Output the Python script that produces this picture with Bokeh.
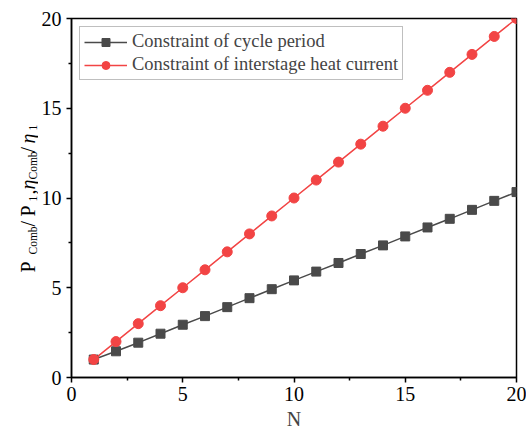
import math
from bokeh.plotting import figure
from bokeh.layouts import row
from bokeh.models import Range1d, Label, Legend, LegendItem, FixedTicker
from bokeh.embed import file_html
from bokeh.resources import INLINE

# ---- data ----
N = [1, 2, 3, 4, 5, 6, 7, 8, 9, 10, 11, 12, 13, 14, 15, 16, 17, 18, 19, 20]
cycle_period = [1.00, 1.46, 1.94, 2.44, 2.94, 3.42, 3.92, 4.42, 4.92, 5.41,
                5.90, 6.38, 6.88, 7.36, 7.86, 8.36, 8.84, 9.34, 9.84, 10.33]
heat_current = [1, 2, 3, 4, 5, 6, 7, 8, 9, 10,
                11, 12, 13, 14, 15, 16, 17, 18, 19, 20]
x_ticks = [0, 5, 10, 15, 20]
y_ticks = [0, 5, 10, 15, 20]
series_names = ["Constraint of cycle period", "Constraint of interstage heat current"]

FONT = "Liberation Serif"
BLACK = "#4a4a4a"
RED = "#f24444"
H = 434
LABEL_W = 38
FRAME_TOP, FRAME_BOTTOM = 18, 377

# ---- main plot ----
p = figure(width=526 - LABEL_W, height=H, output_backend="svg", toolbar_location=None,
           x_range=Range1d(0, 20), y_range=Range1d(0, 20),
           min_border_left=70 - LABEL_W, min_border_right=10, min_border_top=FRAME_TOP,
           min_border_bottom=H - FRAME_BOTTOM)
p.xgrid.visible = False
p.ygrid.visible = False
p.outline_line_color = "black"
p.outline_line_width = 1.5
p.background_fill_color = "white"
p.border_fill_color = "white"

for ax, ticks in ((p.xaxis[0], x_ticks), (p.yaxis[0], y_ticks)):
    ax.ticker = FixedTicker(ticks=ticks, minor_ticks=[t + 2.5 for t in ticks[:-1]])
    ax.axis_line_color = "black"
    ax.axis_line_width = 1.5
    ax.major_tick_line_color = "black"
    ax.major_tick_line_width = 1.5
    ax.minor_tick_line_color = "black"
    ax.minor_tick_line_width = 1.5
    ax.major_tick_in = 0
    ax.major_tick_out = 5
    ax.minor_tick_in = 0
    ax.minor_tick_out = 3
    ax.major_label_text_font = FONT
    ax.major_label_text_font_size = "20px"
    ax.major_label_text_color = "black"

p.xaxis[0].major_label_standoff = 4
p.yaxis[0].major_label_standoff = 5
p.xaxis[0].axis_label = "N"
p.xaxis[0].axis_label_text_font = FONT
p.xaxis[0].axis_label_text_font_size = "20px"
p.xaxis[0].axis_label_text_font_style = "normal"
p.xaxis[0].axis_label_standoff = 4

l1 = p.line(N, cycle_period, line_color=BLACK, line_width=1.5)
m1 = p.scatter(N, cycle_period, marker="square", size=9, fill_color=BLACK, line_color=BLACK)
l2 = p.line(N, heat_current, line_color=RED, line_width=1.5)
m2 = p.scatter(N, heat_current, marker="circle", size=10, fill_color=RED, line_color=RED)

legend = Legend(items=[LegendItem(label=series_names[0], renderers=[l1, m1]),
                       LegendItem(label=series_names[1], renderers=[l2, m2])],
                location="top_left", margin=8, padding=4, spacing=2,
                glyph_width=43, glyph_height=20, label_height=20, label_standoff=5,
                label_text_font=FONT, label_text_font_size="18.5px",
                border_line_color="#808080", border_line_width=1,
                background_fill_alpha=1.0)
p.add_layout(legend)

# ---- y axis title in a narrow strip figure (rotated text pieces) ----
# the strip's frame is aligned with the main frame, so map its y range to pixel rows
lab = figure(width=LABEL_W, height=H, output_backend="svg", toolbar_location=None,
             x_range=Range1d(0, LABEL_W), y_range=Range1d(H - FRAME_BOTTOM, H - FRAME_TOP),
             min_border=0, min_border_left=0, min_border_right=0,
             min_border_top=FRAME_TOP, min_border_bottom=H - FRAME_BOTTOM)
lab.axis.visible = False
lab.grid.visible = False
lab.outline_line_color = None
lab.background_fill_color = "white"
lab.border_fill_color = "white"

main_base_x, sub_base_x = 27, 32
pieces = [("P", 20, False, False, 272),
          ("Comb", 11.5, True, False, 254),
          ("/", 20, False, False, 226),
          ("P", 20, False, False, 216),
          ("1", 11.5, True, False, 201),
          (",", 20, False, False, 194),
          ("\u03b7", 20, False, True, 189),
          ("Comb", 11.5, True, False, 179),
          ("/", 20, False, False, 152),
          ("\u03b7", 20, False, True, 143),
          ("1", 11.5, True, False, 130)]
for text, size, sub, ital, by in pieces:
    bx = sub_base_x if sub else main_base_x
    lab.add_layout(Label(x=bx, y=H - by, text=text, angle=math.pi / 2,
                         text_align="left", text_baseline="alphabetic",
                         text_font=FONT, text_font_size=f"{size}px",
                         text_font_style="italic" if ital else "normal",
                         text_color="black"))

layout = row(lab, p, spacing=0)
open("out.html", "w").write(file_html(layout, INLINE))
